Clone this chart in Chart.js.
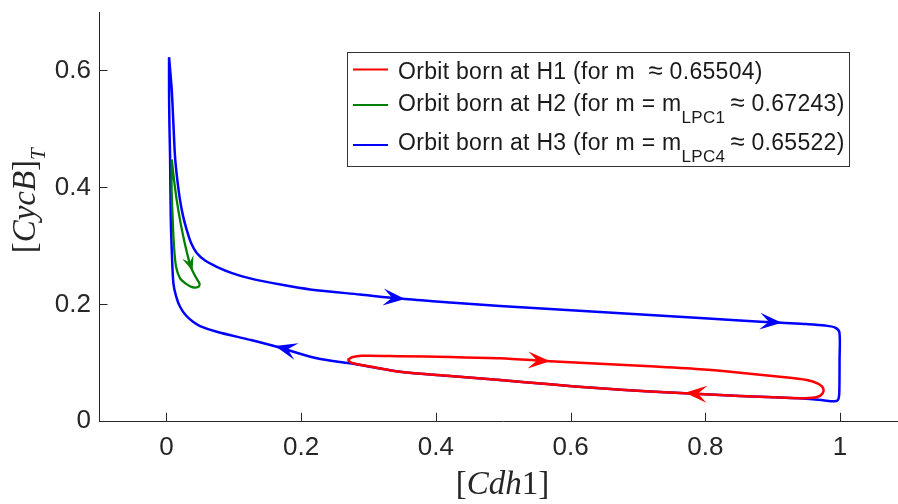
<!DOCTYPE html>
<html>
<head>
<meta charset="utf-8">
<script src="https://cdn.jsdelivr.net/npm/chart.js@4.4.1/dist/chart.umd.min.js"></script>
<style>
  html, body { margin: 0; padding: 0; background: #fff; overflow: hidden; }
  #wrap { position: relative; width: 898px; height: 504px; overflow: hidden; }
  canvas { display: block; }
</style>
</head>
<body>
<div id="wrap"><canvas id="orbits" width="910" height="504"></canvas></div>
<script>
// ---- axis ticks ----
const xTicks = [0, 0.2, 0.4, 0.6, 0.8, 1];
const xTickLabels = ['0', '0.2', '0.4', '0.6', '0.8', '1'];
const yTicks = [0, 0.2, 0.4, 0.6];
const yTickLabels = ['0', '0.2', '0.4', '0.6'];

// ---- orbit born at H1 (closed loop, traversed clockwise) ----
const h1X = [0.2690, 0.2756, 0.2905, 0.3469, 0.4211, 0.4953, 0.5695, 0.6437, 0.7179, 0.7921,
             0.8515, 0.9108, 0.9506, 0.9673, 0.9748, 0.9740, 0.9659, 0.9481, 0.9108, 0.8515,
             0.7921, 0.7179, 0.6437, 0.5695, 0.4953, 0.4211, 0.3469, 0.3024, 0.2756, 0.2690];
const h1Y = [0.1048, 0.1096, 0.1120, 0.1113, 0.1099, 0.1077, 0.1027, 0.0983, 0.0940, 0.0889,
             0.0831, 0.0762, 0.0706, 0.0646, 0.0569, 0.0475, 0.0415, 0.0395, 0.0407, 0.0432,
             0.0467, 0.0509, 0.0564, 0.0632, 0.0706, 0.0774, 0.0848, 0.0937, 0.0997, 0.1048];

// ---- orbit born at H2 ----
const h2X = [0.0080, 0.0114, 0.0154, 0.0203, 0.0252, 0.0307, 0.0359, 0.0411, 0.0463, 0.0493,
             0.0471, 0.0381, 0.0278, 0.0203, 0.0144, 0.0114, 0.0092, 0.0077, 0.0080];
const h2Y = [0.4479, 0.4125, 0.3783, 0.3441, 0.3156, 0.2877, 0.2655, 0.2518, 0.2415, 0.2347,
             0.2296, 0.2296, 0.2364, 0.2444, 0.2643, 0.2985, 0.3497, 0.4039, 0.4479];

// ---- orbit born at H3 ----
const h3X = [0.0040, 0.0080, 0.0104, 0.0129, 0.0163, 0.0203, 0.0248, 0.0303, 0.0367, 0.0451,
             0.0574, 0.0748, 0.0975, 0.1242, 0.1737, 0.2133, 0.2875, 0.3543, 0.4211, 0.4953,
             0.5695, 0.6437, 0.7179, 0.7921, 0.8515, 0.9135, 0.9506, 0.9777, 0.9926, 0.9990,
             0.9993, 0.9990, 0.9981, 0.9948, 0.9748, 0.9599, 0.9108, 0.8515, 0.7921, 0.7179,
             0.6437, 0.5695, 0.4953, 0.4211, 0.3469, 0.2726, 0.2232, 0.1639, 0.1242, 0.0748,
             0.0500, 0.0396, 0.0292, 0.0203, 0.0144, 0.0104, 0.0080, 0.0065, 0.0055, 0.0045,
             0.0040, 0.0040];
const h3Y = [0.6227, 0.5663, 0.5099, 0.4518, 0.4125, 0.3783, 0.3509, 0.3270, 0.3048, 0.2877,
             0.2749, 0.2643, 0.2535, 0.2444, 0.2330, 0.2256, 0.2168, 0.2091, 0.2031, 0.1971,
             0.1920, 0.1868, 0.1817, 0.1766, 0.1723, 0.1685, 0.1663, 0.1638, 0.1603, 0.1526,
             0.1048, 0.0535, 0.0398, 0.0347, 0.0359, 0.0378, 0.0407, 0.0432, 0.0467, 0.0509,
             0.0564, 0.0632, 0.0706, 0.0774, 0.0848, 0.0991, 0.1077, 0.1275, 0.1393, 0.1532,
             0.1629, 0.1703, 0.1809, 0.1959, 0.2142, 0.2364, 0.2928, 0.3497, 0.4518, 0.5099,
             0.5663, 0.6227];

// ---- direction arrows: tip point and a point just behind it on the orbit ----
const h1Arrows = [[0.5695, 0.1027, 0.5354, 0.1048], [0.7698, 0.0489, 0.8040, 0.0462]];
const h2Arrows = [[0.0389, 0.2569, 0.0322, 0.2800]];
const h3Arrows = [[0.3543, 0.2091, 0.3217, 0.2125], [0.9135, 0.1685, 0.8798, 0.1714],
                  [0.1614, 0.1287, 0.1955, 0.1185]];

// ---- text ----
const legendRows = [
  [{ t: 'Orbit born at H1 (for m  ' }, { t: '\u2248', sym: true }, { t: ' 0.65504)' }],
  [{ t: 'Orbit born at H2 (for m = m' }, { t: 'LPC1', sub: true }, { t: '\u2009' }, { t: '\u2248', sym: true }, { t: ' 0.67243)' }],
  [{ t: 'Orbit born at H3 (for m = m' }, { t: 'LPC4', sub: true }, { t: '\u2009' }, { t: '\u2248', sym: true }, { t: ' 0.65522)' }]
];
const xTitleRuns = [{ t: '[' }, { t: 'Cdh', it: true }, { t: '1' }, { t: ']' }];
const yTitleRuns = [{ t: '[' }, { t: 'CycB', it: true }, { t: ']' }, { t: 'T', it: true, sub: true }];

const RED = '#ff0000', GREEN = '#008000', BLUE = '#0000ff';
const AXIS = '#262626';

const toPoints = (xs, ys) => xs.map((x, i) => ({ x, y: ys[i] }));

function barbedArrow(ctx, tx, ty, bx, by, len, half, notch, color) {
  const ang = Math.atan2(ty - by, tx - bx);
  ctx.save();
  ctx.translate(tx, ty);
  ctx.rotate(ang);
  ctx.fillStyle = color;
  ctx.beginPath();
  ctx.moveTo(0, 0);
  ctx.lineTo(-len, -half);
  ctx.lineTo(-notch, 0);
  ctx.lineTo(-len, half);
  ctx.closePath();
  ctx.fill();
  ctx.restore();
}

const arrowPlugin = {
  id: 'orbitArrows',
  afterDatasetsDraw(chart) {
    const { ctx, scales: { x, y } } = chart;
    const groups = [
      [h3Arrows, BLUE, 22, 8.5, 13],
      [h2Arrows, GREEN, 15, 6, 9],
      [h1Arrows, RED, 22, 8.5, 13]
    ];
    for (const [list, color, len, half, notch] of groups) {
      for (const a of list) {
        barbedArrow(ctx, x.getPixelForValue(a[0]), y.getPixelForValue(a[1]),
          x.getPixelForValue(a[2]), y.getPixelForValue(a[3]), len, half, notch, color);
      }
    }
  }
};

function runWidth(ctx, runs, fontFor) {
  let w = 0;
  for (const r of runs) { ctx.font = fontFor(r); w += ctx.measureText(r.t).width; }
  return w;
}
function drawRuns(ctx, runs, x0, y0, fontFor, subDy) {
  let xx = x0;
  for (const r of runs) {
    ctx.font = fontFor(r);
    ctx.fillText(r.t, xx, y0 + (r.sub ? subDy : 0));
    xx += ctx.measureText(r.t).width;
  }
}

const decorPlugin = {
  id: 'axesDecor',
  afterDraw(chart) {
    const { ctx, chartArea, scales: { x, y } } = chart;
    ctx.save();
    // inward tick marks
    ctx.strokeStyle = AXIS;
    ctx.lineWidth = 1;
    ctx.beginPath();
    for (const v of xTicks) {
      const px = Math.round(x.getPixelForValue(v)) + 0.5;
      ctx.moveTo(px, chartArea.bottom);
      ctx.lineTo(px, chartArea.bottom - 8.5);
    }
    for (const v of yTicks) {
      const py = Math.round(y.getPixelForValue(v)) + 0.5;
      ctx.moveTo(chartArea.left, py);
      ctx.lineTo(chartArea.left + 8.5, py);
    }
    ctx.stroke();

    // axis titles
    ctx.fillStyle = AXIS;
    ctx.textBaseline = 'alphabetic';
    const serif = r => (r.it ? 'italic ' : '') + (r.sub ? 21 : 33) + 'px "Liberation Serif", "DejaVu Serif", serif';
    const xw = runWidth(ctx, xTitleRuns, serif);
    drawRuns(ctx, xTitleRuns, 502.5 - xw / 2, 493.5, serif, 0);
    ctx.save();
    ctx.translate(35, 200.8);
    ctx.rotate(-Math.PI / 2);
    const yw = runWidth(ctx, yTitleRuns, serif);
    drawRuns(ctx, yTitleRuns, -yw / 2, 0, serif, 10);
    ctx.restore();

    // legend
    const lx = 347.5, ly = 52.5, lw = 502, lh = 114;
    ctx.fillStyle = '#ffffff';
    ctx.fillRect(lx, ly, lw, lh);
    ctx.strokeStyle = '#333333';
    ctx.lineWidth = 1;
    ctx.strokeRect(lx, ly, lw, lh);
    const colors = [RED, GREEN, BLUE];
    const lineY = [69.5, 105, 145];
    const baseY = [79.3, 110.7, 150];
    const sans = r => (r.sub ? 17 : r.sym ? 26 : 23) + 'px "Liberation Sans", Arial, sans-serif';
    ctx.letterSpacing = '0.3px';
    for (let i = 0; i < 3; i++) {
      ctx.strokeStyle = colors[i];
      ctx.lineWidth = 2;
      ctx.beginPath();
      ctx.moveTo(353, lineY[i]);
      ctx.lineTo(388, lineY[i]);
      ctx.stroke();
      ctx.fillStyle = '#1a1a1a';
      drawRuns(ctx, legendRows[i], 398, baseY[i], sans, 12);
    }
    ctx.letterSpacing = '0px';
    ctx.restore();
  }
};

const commonLine = { showLine: true, pointRadius: 0, pointHoverRadius: 0, fill: false, tension: 0.3 };

new Chart(document.getElementById('orbits').getContext('2d'), {
  type: 'scatter',
  data: {
    datasets: [
      Object.assign({ label: 'Orbit born at H1', data: toPoints(h1X, h1Y), borderColor: RED, borderWidth: 2.5, order: 0 }, commonLine),
      Object.assign({ label: 'Orbit born at H2', data: toPoints(h2X, h2Y), borderColor: GREEN, borderWidth: 2.3, order: 1 }, commonLine),
      Object.assign({ label: 'Orbit born at H3', data: toPoints(h3X, h3Y), borderColor: BLUE, borderWidth: 2.5, order: 2 }, commonLine)
    ]
  },
  options: {
    responsive: false,
    animation: false,
    devicePixelRatio: 1,
    events: [],
    layout: { padding: { left: 0, top: 12, right: 2.6, bottom: 0 } },
    plugins: { legend: { display: false }, tooltip: { enabled: false } },
    scales: {
      x: {
        type: 'linear', min: -0.1, max: 1.1,
        afterBuildTicks: s => { s.ticks = xTicks.map(v => ({ value: v })); },
        afterFit: s => { s.height = 504 - 421.3; s.paddingLeft = 0; s.paddingRight = 0; },
        grid: { display: false, drawTicks: false },
        border: { display: true, color: AXIS, width: 1 },
        ticks: {
          color: AXIS, padding: 11, maxRotation: 0, autoSkip: false,
          font: { family: '"Liberation Sans", Arial, sans-serif', size: 26 },
          callback: (v, i) => xTickLabels[i]
        }
      },
      y: {
        type: 'linear', min: 0, max: 0.7,
        afterBuildTicks: s => { s.ticks = yTicks.map(v => ({ value: v })); },
        afterFit: s => { s.width = 99; s.paddingTop = 0; s.paddingBottom = 0; },
        grid: { display: false, drawTicks: false },
        border: { display: true, color: AXIS, width: 1 },
        ticks: {
          color: AXIS, padding: 8, autoSkip: false,
          font: { family: '"Liberation Sans", Arial, sans-serif', size: 26 },
          callback: (v, i) => yTickLabels[i]
        }
      }
    }
  },
  plugins: [arrowPlugin, decorPlugin]
});
</script>
</body>
</html>
